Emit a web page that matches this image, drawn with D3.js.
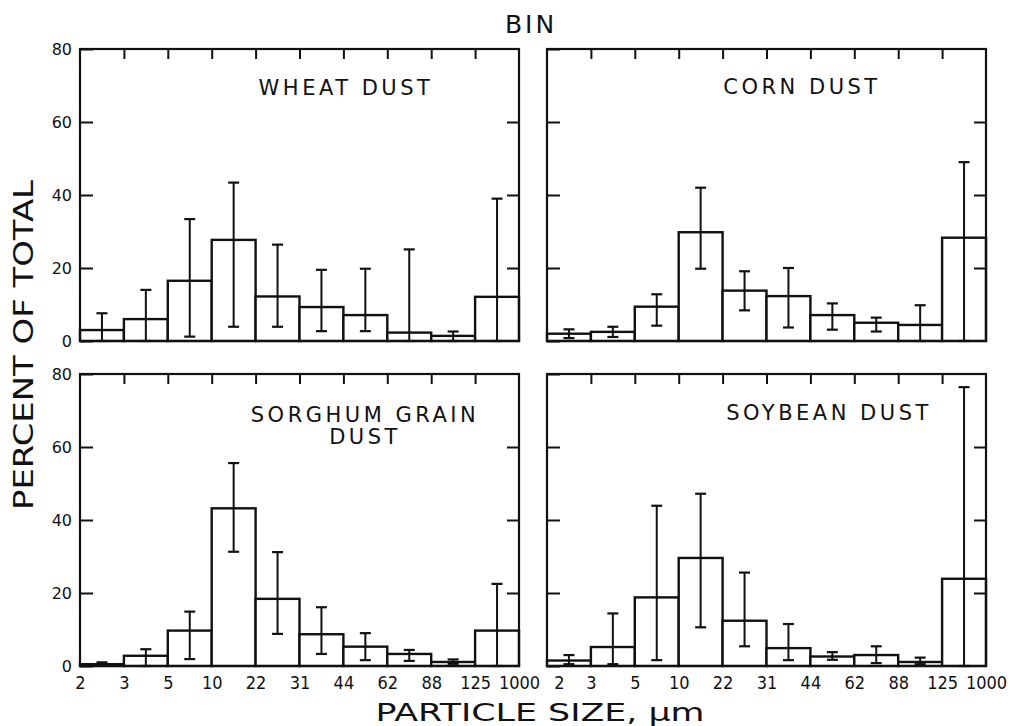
<!DOCTYPE html>
<html>
<head>
<meta charset="utf-8">
<script src="https://cdn.jsdelivr.net/npm/d3@7"></script>
<style>
	body { margin: 0; background: #fff; }
	svg { display: block; }
	text { font-family: "DejaVu Sans", sans-serif; fill: #111; }
</style>
</head>
<body>
<div id="container"></div>
<script>
/* DATA: percent of total per particle size bin (mean, low / high error) */
	const edges = ["2", "3", "5", "10", "22", "31", "44", "62", "88", "125", "1000"];
	const bins = edges.slice(0, -1).map((e, i) => e + "-" + edges[i + 1]);
	const yTicks = [0, 20, 40, 60, 80];

	const wheat   = [3, 6, 16.5, 27.7, 12.2, 9.3, 7.1, 2.3, 1.4, 12.1];
	const wheatLo = [0, 0, 1.2, 3.9, 3.9, 2.7, 2.7, 0, 0, 0];
	const wheatHi = [7.6, 14, 33.4, 43.4, 26.4, 19.5, 19.8, 25.1, 2.6, 39];

	const corn   = [2, 2.5, 9.4, 29.8, 13.8, 12.3, 7.1, 5, 4.4, 28.3];
	const cornLo = [0.8, 1.1, 4.2, 19.8, 8.4, 3.7, 3.1, 2.6, 0, 0];
	const cornHi = [3.2, 3.9, 12.8, 42, 19.1, 20, 10.3, 6.4, 9.8, 49];

	const sorghum   = [0.5, 2.8, 9.7, 43.2, 18.4, 8.7, 5.3, 3.3, 1.1, 9.7];
	const sorghumLo = [0.3, 0, 1.9, 31.3, 8.8, 3.3, 1.6, 1.4, 0.6, 0];
	const sorghumHi = [1, 4.6, 14.9, 55.6, 31.2, 16.1, 9, 4.4, 1.8, 22.5];

	const soy   = [1.5, 5.2, 18.8, 29.6, 12.4, 4.9, 2.6, 3, 1.1, 23.9];
	const soyLo = [0.5, 0.5, 1.6, 10.6, 5.4, 1.6, 1.7, 0.8, 0.5, 0];
	const soyHi = [3, 14.4, 43.9, 47.2, 25.6, 11.5, 3.8, 5.4, 2.3, 76.4];

/* CONSTANTS AND GLOBALS */
	const width = 1012,
	height = 726,
	panelW = 439,
	panelH = 292;

	/* one entry per panel: position + title lines */
	const panels = [
		{ title: ["WHEAT DUST"], values: wheat, lo: wheatLo, hi: wheatHi, x: 80, y: 49, tx: 266, ty: [46], labels: true, bottom: false, firstDx: 0 },
		{ title: ["CORN DUST"], values: corn, lo: cornLo, hi: cornHi, x: 547, y: 49, tx: 255, ty: [45], labels: false, bottom: false, firstDx: 0 },
		{ title: ["SORGHUM GRAIN", "DUST"], values: sorghum, lo: sorghumLo, hi: sorghumHi, x: 80, y: 374, tx: 285, ty: [48, 70], labels: true, bottom: true, firstDx: 0 },
		{ title: ["SOYBEAN DUST"], values: soy, lo: soyLo, hi: soyHi, x: 547, y: 374, tx: 282, ty: [46], labels: false, bottom: true, firstDx: 12 }
	];

/* SCALES */
	const xScale = d3.scaleBand()
		.domain(bins)
		.range([0, panelW])
		.paddingInner(0);

	const edgeScale = d3.scalePoint() /* bin boundaries, used for tick labels */
		.domain(edges)
		.range([0, panelW]);

	const yScale = d3.scaleLinear()
		.domain([0, 80])
		.range([panelH, 0]);

/* HTML ELEMENTS */
	const svg = d3.select("#container")
		.append("svg")
		.attr("width", width)
		.attr("height", height);

	panels.forEach(p => {
		const g = svg.append("g")
			.attr("transform", `translate(${p.x}, ${p.y})`);

		const rows = bins.map((b, i) => ({ bin: b, v: p.values[i], lo: p.lo[i], hi: p.hi[i] }));

		/* bars */
		g.selectAll(".bar")
			.data(rows)
			.join("rect")
			.attr("class", "bar")
			.attr("x", d => xScale(d.bin))
			.attr("y", d => yScale(d.v))
			.attr("width", xScale.bandwidth())
			.attr("height", d => panelH - yScale(d.v))
			.attr("fill", "#fff")
			.attr("stroke", "#111")
			.attr("stroke-width", 2.4);

		/* error bars */
		const cx = d => xScale(d.bin) + xScale.bandwidth() / 2;
		g.selectAll(".err")
			.data(rows)
			.join("line")
			.attr("class", "err")
			.attr("x1", cx).attr("x2", cx)
			.attr("y1", d => yScale(d.lo))
			.attr("y2", d => yScale(d.hi))
			.attr("stroke", "#111")
			.attr("stroke-width", 2);

		["lo", "hi"].forEach(k => {
			g.selectAll(".cap-" + k)
				.data(rows)
				.join("line")
				.attr("class", "cap-" + k)
				.attr("x1", d => cx(d) - 5.5).attr("x2", d => cx(d) + 5.5)
				.attr("y1", d => yScale(d[k]))
				.attr("y2", d => yScale(d[k]))
				.attr("stroke", "#111")
				.attr("stroke-width", 2.2);
		});

		/* frame */
		g.append("rect")
			.attr("width", panelW)
			.attr("height", panelH)
			.attr("fill", "none")
			.attr("stroke", "#111")
			.attr("stroke-width", 2.2);

		/* axes, ticks pointing inward */
		const yAxis = d3.axisLeft(yScale)
			.tickValues(yTicks)
			.tickSize(-13)
			.tickPadding(8)
			.tickFormat(p.labels ? d3.format("d") : "");
		const ya = g.append("g").call(yAxis);
		ya.select(".domain").remove();
		ya.selectAll(".tick line").attr("stroke-width", 2).attr("stroke", "#111");
		ya.selectAll(".tick text").style("font-size", "16px").style("font-family", "DejaVu Sans, sans-serif").attr("fill", "#111");

		const rAxis = d3.axisRight(yScale)
			.tickValues(yTicks.slice(1, -1))
			.tickSize(-12)
			.tickFormat("");
		const ra = g.append("g").attr("transform", `translate(${panelW}, 0)`).call(rAxis);
		ra.select(".domain").remove();
		ra.selectAll(".tick line").attr("stroke-width", 2).attr("stroke", "#111");

		const tAxis = d3.axisTop(edgeScale)
			.tickValues(edges.slice(1, -1))
			.tickSize(-10)
			.tickFormat("");
		const ta = g.append("g").call(tAxis);
		ta.select(".domain").remove();
		ta.selectAll(".tick line").attr("stroke-width", 2).attr("stroke", "#111");

		if (p.bottom) {
			const bAxis = d3.axisBottom(edgeScale)
				.tickSize(0)
				.tickPadding(10);
			const ba = g.append("g").attr("transform", `translate(0, ${panelH})`).call(bAxis);
			ba.select(".domain").remove();
			ba.selectAll(".tick text")
				.style("font-size", "18px")
				.style("font-family", "DejaVu Sans Condensed, Liberation Sans Narrow, DejaVu Sans, sans-serif")
				.attr("fill", "#111")
				.attr("dx", (d, i) => i === 0 ? p.firstDx : 0);
		}

		/* panel title */
		p.title.forEach((t, i) => {
			g.append("text")
				.attr("x", p.tx)
				.attr("y", p.ty[i])
				.attr("text-anchor", "middle")
				.style("font-size", "21px")
				.style("letter-spacing", "3.5px")
				.text(t);
		});
	});

	/* figure titles */
	svg.append("text")
		.attr("x", 531)
		.attr("y", 33)
		.attr("text-anchor", "middle")
		.style("font-size", "25px")
		.style("letter-spacing", "3px")
		.text("BIN");

	svg.append("text")
		.attr("x", 540)
		.attr("y", 721)
		.attr("text-anchor", "middle")
		.attr("textLength", 329)
		.attr("lengthAdjust", "spacingAndGlyphs")
		.style("font-size", "25px")
		.text("PARTICLE SIZE, μm");

	svg.append("text")
		.attr("transform", "translate(33, 345) rotate(-90)")
		.attr("text-anchor", "middle")
		.attr("textLength", 330)
		.attr("lengthAdjust", "spacingAndGlyphs")
		.style("font-size", "27px")
		.text("PERCENT OF TOTAL");
</script>
</body>
</html>
